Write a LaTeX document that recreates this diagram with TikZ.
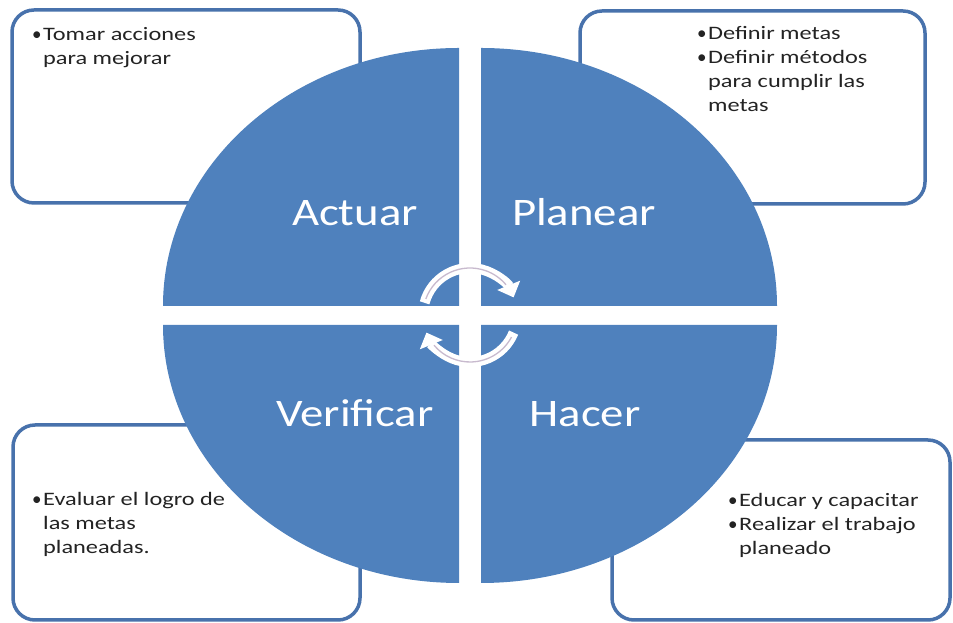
\documentclass[tikz,border=0pt]{standalone}
\usepackage{fontspec}
\setmainfont{Carlito}
\newfontfamily\bodyfont[FakeStretch=1.28]{Carlito}
\newfontfamily\lblfont[FakeStretch=1.2]{Carlito}
\usepackage{xcolor}
\usetikzlibrary{arrows.meta}

\definecolor{qblue}{RGB}{79,129,189}
\definecolor{bline}{RGB}{72,114,172}
\definecolor{txtc}{RGB}{35,35,35}
\definecolor{cycl}{RGB}{200,186,206}

\newcommand{\itm}{\makebox[11pt][l]{\rmfamily•}}
\newcommand{\ind}{\hspace*{11pt}}

\begin{document}
\begin{tikzpicture}[x=1pt, y=1pt,
		box/.style={
			draw=bline,
			line width=3.5pt,
			rounded corners=22pt,
			fill=white,
		},
		quad/.style={fill=qblue, draw=none},
		lbl/.style={
			text=white,
			font=\lblfont\fontsize{39}{44}\selectfont,
			inner sep=0,
			anchor=base,
		},
		txt/.style={
			text=txtc,
			font=\bodyfont\fontsize{19}{24}\selectfont,
			inner sep=0,
			anchor=base west,
		},
		cyc/.style={white, line width=10pt, -{Triangle[width=24pt,length=13pt]}},
		cycin/.style={cycl, line width=1.3pt},
		]
		\useasboundingbox (0,0) rectangle (953,623);
		\def\rx{296}; \def\ry{258};
		\def\xl{459}; \def\xr{481}; \def\yt{317}; \def\yb{298};
		
		% corner boxes
		\draw[box] (12,420) rectangle (360,613);
		\draw[box] (580,419) rectangle (925,612);
		\draw[box] (13,3) rectangle (360,198);
		\draw[box] (612,3) rectangle (950,183);
		
		% four quarters
		\fill[quad] (\xl,\yt) -- ++(-\rx,0) arc[start angle=180, end angle=90, x radius=\rx, y radius=\ry] -- cycle;
		\fill[quad] (\xr,\yt) -- ++(\rx,0) arc[start angle=0, end angle=90, x radius=\rx, y radius=\ry] -- cycle;
		\fill[quad] (\xl,\yb) -- ++(-\rx,0) arc[start angle=180, end angle=270, x radius=\rx, y radius=\ry] -- cycle;
		\fill[quad] (\xr,\yb) -- ++(\rx,0) arc[start angle=360, end angle=270, x radius=\rx, y radius=\ry] -- cycle;
		
		\node[lbl] (actuar) at (355,397) {Actuar};
		\node[lbl] (planear) at (584,397) {Planear};
		\node[lbl] (verificar) at (355,196) {Verificar};
		\node[lbl] (hacer) at (585,196) {Hacer};
		
		% cycle arrows
		\def\R{47};
		\coordinate (c) at (470,308);
		\draw[cyc] (c) ++(165:\R) arc[start angle=165, end angle=22, radius=\R];
		\draw[cycin] (c) ++(160:\R) arc[start angle=160, end angle=40, radius=\R];
		\draw[cyc] (c) ++(-22:\R) arc[start angle=-22, end angle=-158, radius=\R];
		\draw[cycin] (c) ++(-28:\R) arc[start angle=-28, end angle=-140, radius=\R];
		
		% texts
		\node[txt] (mejorar) at (32,582) {\begin{tabular}[t]{@{}l@{}}\itm Tomar acciones\\ \ind para mejorar\end{tabular}};
		\node[txt] (metas) at (697,583) {\begin{tabular}[t]{@{}l@{}}\itm Definir metas\\ \itm Definir métodos\\ \ind para cumplir las\\ \ind metas\end{tabular}};
		\node[txt] (evaluar) at (32,117) {\begin{tabular}[t]{@{}l@{}}\itm Evaluar el logro de\\ \ind las metas\\ \ind planeadas.\end{tabular}};
		\node[txt] (educar) at (728,116) {\begin{tabular}[t]{@{}l@{}}\itm Educar y capacitar\\ \itm Realizar el trabajo\\ \ind planeado\end{tabular}};
		
	\end{tikzpicture}
\end{document}
